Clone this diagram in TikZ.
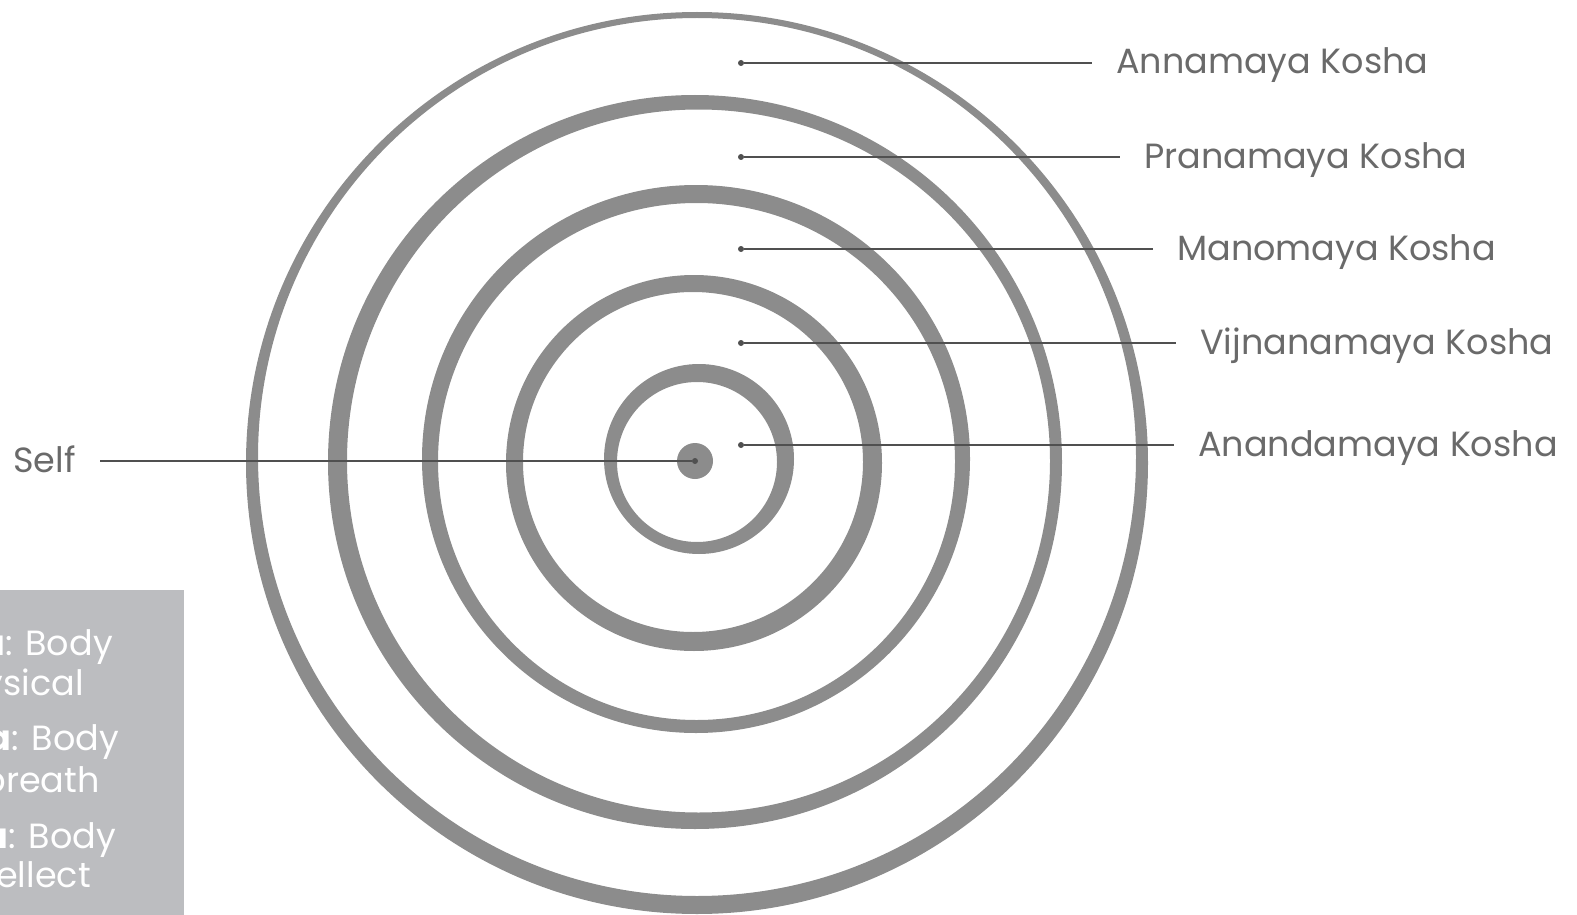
\documentclass[tikz,border=0pt]{standalone}
\usepackage{fontspec}
\setmainfont{Poppins}
\usepackage{xcolor}
\usepackage{tikz}
\usetikzlibrary{positioning}
\definecolor{ringgrey}{HTML}{8C8C8C}
\definecolor{leadgrey}{HTML}{505050}
\definecolor{labelgrey}{HTML}{6A6A6A}
\definecolor{boxgrey}{HTML}{BCBDC0}

\begin{document}
\begin{tikzpicture}[
  x=1pt, y=-1pt,
  font=\fontsize{35}{41}\selectfont,
  ring/.style={fill=ringgrey, even odd rule},
  kosha/.style={text=labelgrey, anchor=west, inner xsep=24pt, inner ysep=0pt,
    text height=22pt, text depth=0pt},
  pin/.style={circle, fill=leadgrey, inner sep=0pt, minimum size=6pt},
  lead/.style={draw=leadgrey, line width=1.8pt},
  note/.style={text=white, anchor=base east, inner sep=0pt}
]

\useasboundingbox (0,0) rectangle (1577,915);

\fill[ring] (697,463) circle (451) (697,457) circle (439);
\fill[ring] (695,462) circle (367) (698.5,461) circle (351.5);
\fill[ring] (696,459) circle (274) (696.5,461.5) circle (258.5);
\fill[ring] (694,463) circle (188) (693,462) circle (170);
\fill[ring] (699,459) circle (95) (697,462) circle (80);
\fill[ringgrey] (695,461) circle (18);

\node[pin] (core) at (695,461) {};
\node[pin] (d1) at (741,63) {};
\node[pin] (d2) at (741,157) {};
\node[pin] (d3) at (741,249) {};
\node[pin] (d4) at (741,343) {};
\node[pin] (d5) at (741,445) {};

\node[kosha] (anna)   at (1092,63)  {Annamaya Kosha};
\node[kosha] (prana)  at (1120,157) {Pranamaya Kosha};
\node[kosha] (mano)   at (1153,249) {Manomaya Kosha};
\node[kosha] (vijna)  at (1176,343) {Vijnanamaya Kosha};
\node[kosha] (ananda) at (1174,445) {Anandamaya Kosha};
\node[kosha, anchor=east] (self) at (100,461) {Self};

\draw[lead] (d1) -- (anna);
\draw[lead] (d2) -- (prana);
\draw[lead] (d3) -- (mano);
\draw[lead] (d4) -- (vijna);
\draw[lead] (d5) -- (ananda);
\draw[lead] (self) -- (core);

\fill[boxgrey] (0,590) rectangle (184,915);
\begin{scope}
  \clip (0,590) rectangle (184,915);
  \node[note] (n1) at (113,655) {\textbf{Annamaya}: Body};
  \node[note] (n2) at (84,695)  {physical};
  \node[note] (n3) at (119,750) {\textbf{Pranamaya}: Body};
  \node[note] (n4) at (100,792) {breath};
  \node[note] (n5) at (116,848) {\textbf{Manomaya}: Body};
  \node[note] (n6) at (91,887)  {intellect};
\end{scope}

\end{tikzpicture}
\end{document}
